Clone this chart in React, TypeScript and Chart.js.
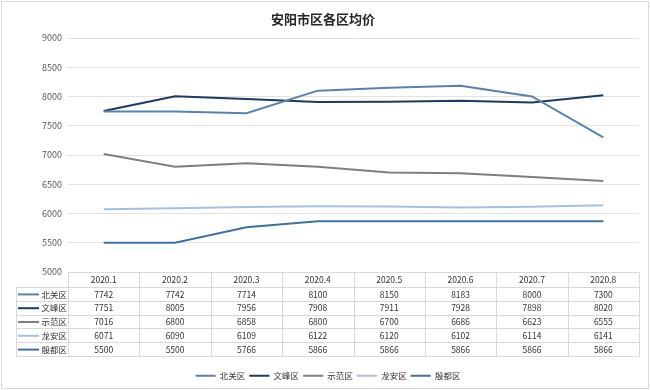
import React, { useEffect, useRef } from "react";
import { Chart, registerables } from "chart.js";

Chart.register(...registerables);

const categories = ["2020.1", "2020.2", "2020.3", "2020.4", "2020.5", "2020.6", "2020.7", "2020.8"];
const seriesNames = ["北关区", "文峰区", "示范区", "龙安区", "殷都区"];
const beiguan = [7742, 7742, 7714, 8100, 8150, 8183, 8000, 7300];
const wenfeng = [7751, 8005, 7956, 7908, 7911, 7928, 7898, 8020];
const shifan = [7016, 6800, 6858, 6800, 6700, 6686, 6623, 6555];
const longan = [6071, 6090, 6109, 6122, 6120, 6102, 6114, 6141];
const yindu = [5500, 5500, 5766, 5866, 5866, 5866, 5866, 5866];
const seriesValues = [beiguan, wenfeng, shifan, longan, yindu];
const seriesColors = ["#5a82a8", "#1f3b5c", "#7f7f7f", "#a6c0dd", "#41719c"];
const titleText = "安阳市区各区均价";

const FONT = "'Noto Sans CJK SC', 'Noto Sans', sans-serif";

const tablePlugin = {
  id: "dataTable",
  beforeDraw(chart: any) {
    const ctx = chart.ctx;
    ctx.save();
    ctx.fillStyle = "#ffffff";
    ctx.fillRect(0, 0, chart.width, chart.height);
    ctx.strokeStyle = "#d9d9d9";
    ctx.lineWidth = 1;
    ctx.strokeRect(1.5, 1.5, chart.width - 3, chart.height - 3);
    ctx.restore();
  },
  afterDraw(chart: any) {
    const ctx = chart.ctx;
    const area = chart.chartArea;
    const xs = chart.scales.x;
    const n = categories.length;
    const colW = (area.right - area.left) / n;
    const headTop = area.bottom;
    const headBottom = headTop + 15;
    const rowH = 13.8;
    const tableLeft = 16;
    const rows = chart.data.datasets.length;
    const tableBottom = headBottom + rows * rowH;

    ctx.save();
    ctx.fillStyle = "#262626";
    ctx.font = `bold 13px ${FONT}`;
    ctx.textAlign = "center";
    ctx.textBaseline = "middle";
    ctx.fillText(titleText, 323, 19);

    ctx.strokeStyle = "#d9d9d9";
    ctx.lineWidth = 1;
    const hl = (y: number, x0: number) => {
      ctx.beginPath();
      ctx.moveTo(x0, Math.round(y) + 0.5);
      ctx.lineTo(area.right, Math.round(y) + 0.5);
      ctx.stroke();
    };
    const vl = (x: number, y0: number, y1: number) => {
      ctx.beginPath();
      ctx.moveTo(Math.round(x) + 0.5, y0);
      ctx.lineTo(Math.round(x) + 0.5, y1);
      ctx.stroke();
    };
    hl(headTop, area.left);
    for (let r = 0; r <= rows; r++) hl(headBottom + r * rowH, tableLeft);
    vl(tableLeft, Math.round(headBottom) + 0.5, Math.round(tableBottom) + 0.5);
    for (let c = 0; c <= n; c++) vl(area.left + c * colW, Math.round(headTop) + 0.5, Math.round(tableBottom) + 0.5);

    ctx.fillStyle = "#333333";
    ctx.font = `8.5px ${FONT}`;
    ctx.textAlign = "center";
    ctx.textBaseline = "middle";
    categories.forEach((c, i) => {
      ctx.fillText(c, xs.getPixelForValue(i), (headTop + headBottom) / 2 + 0.5);
    });

    chart.data.datasets.forEach((ds: any, r: number) => {
      const yMid = headBottom + r * rowH + rowH / 2 + 0.5;
      ctx.strokeStyle = ds.borderColor;
      ctx.lineWidth = 2;
      ctx.beginPath();
      ctx.moveTo(18, yMid);
      ctx.lineTo(39, yMid);
      ctx.stroke();
      ctx.fillStyle = "#333333";
      ctx.textAlign = "left";
      ctx.fillText(ds.label, 41.5, yMid);
      ctx.textAlign = "center";
      ds.data.forEach((v: number, i: number) => {
        ctx.fillText(String(v), xs.getPixelForValue(i), yMid);
      });
    });
    ctx.restore();
  },
};

export default function App() {
  const ref = useRef<HTMLCanvasElement | null>(null);
  useEffect(() => {
    if (!ref.current) return;
    const chart = new Chart(ref.current, {
      type: "line",
      data: {
        labels: categories,
        datasets: seriesNames.map((name, i) => ({
          label: name,
          data: seriesValues[i],
          borderColor: seriesColors[i],
          backgroundColor: seriesColors[i],
          borderWidth: 2,
          pointRadius: 0,
          pointHoverRadius: 0,
          tension: 0,
          fill: false,
        })),
      },
      options: {
        responsive: false,
        animation: false,
        layout: { padding: { top: 38, left: 6, right: 0, bottom: 0 } },
        plugins: {
          title: { display: false },
          tooltip: { enabled: false },
          legend: {
            display: true,
            position: "bottom",
            labels: {
              usePointStyle: true,
              pointStyle: "line",
              pointStyleWidth: 20,
              padding: 4,
              color: "#333333",
              font: { size: 8.5, family: FONT },
            },
          },
        },
        scales: {
          x: {
            type: "category",
            offset: true,
            grid: { display: false },
            border: { display: false },
            ticks: { display: false },
            afterFit: (s: any) => {
              s.height = 95.5;
            },
          },
          y: {
            min: 5000,
            max: 9000,
            grid: { color: "#e3e3e3", drawTicks: false },
            border: { display: false },
            ticks: {
              stepSize: 500,
              padding: 6,
              color: "#595959",
              font: { size: 9, family: FONT },
              callback: (v: any) => String(v),
            },
            afterFit: (s: any) => {
              s.width = 62;
            },
          },
          yr: {
            position: "right",
            display: true,
            grid: { display: false },
            border: { display: false },
            ticks: { display: false },
            afterFit: (s: any) => {
              s.width = 11;
            },
          },
        },
      },
      plugins: [tablePlugin],
    });
    return () => chart.destroy();
  }, []);
  return (
    <div style={{ position: "absolute", left: 0, top: 0, width: 650, height: 390 }}>
      <canvas ref={ref} width={650} height={390} style={{ display: "block" }} />
    </div>
  );
}
